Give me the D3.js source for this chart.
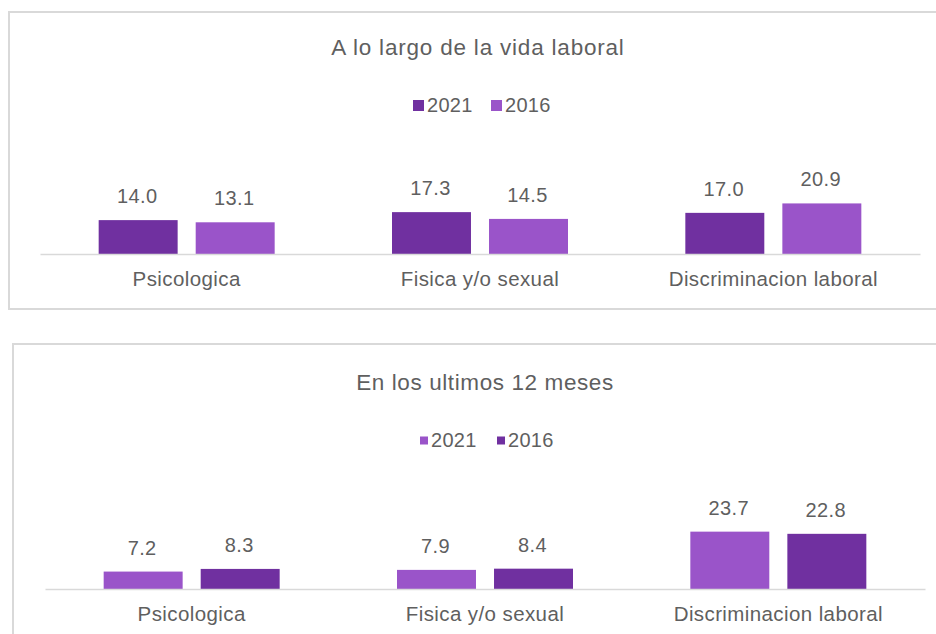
<!DOCTYPE html>
<html>
<head>
<meta charset="utf-8">
<script src="https://cdn.jsdelivr.net/npm/d3@7"></script>
<style>
  html, body { margin: 0; padding: 0; background: #fff; }
  svg { display: block; font-family: "Liberation Sans", Arial, sans-serif; }
</style>
</head>
<body>
<svg id="chart" width="936" height="634"></svg>
<script>
// ---- Data ----
const categories = ["Psicologica", "Fisica y/o sexual", "Discriminacion laboral"];

const topTitle = "A lo largo de la vida laboral";
const topSeriesNames = ["2021", "2016"];
const topValues2021 = [14.0, 17.3, 17.0];
const topValues2016 = [13.1, 14.5, 20.9];

const bottomTitle = "En los ultimos 12 meses";
const bottomSeriesNames = ["2021", "2016"];
const bottomValues2021 = [7.2, 7.9, 23.7];
const bottomValues2016 = [8.3, 8.4, 22.8];

const DARK = "#7030a0";
const LIGHT = "#9a54c9";
const TEXT = "#5f5f5f";

const svg = d3.select("#chart");

function drawPanel(cfg) {
  const g = svg.append("g");
  // panel border
  g.append("rect")
    .attr("x", cfg.box[0]).attr("y", cfg.box[1])
    .attr("width", cfg.box[2]).attr("height", cfg.box[3])
    .attr("fill", "#fff").attr("stroke", "#d9d9d9").attr("stroke-width", 2);

  // title
  g.append("text")
    .attr("x", cfg.titleX).attr("y", cfg.titleY)
    .attr("text-anchor", "middle")
    .attr("font-size", 22.5).attr("fill", TEXT)
    .attr("letter-spacing", cfg.titleLs)
    .text(cfg.title);

  // scales
  const x0 = d3.scaleBand().domain(categories)
    .range([cfg.left, cfg.right]).paddingInner(0.4).paddingOuter(0.2);
  const x1 = d3.scaleBand().domain(cfg.series)
    .range([0, x0.bandwidth()]).paddingInner(0.186).paddingOuter(0);
  const y = d3.scaleLinear().domain([0, 25]).range([cfg.base, cfg.base - 25 * 2.42]);

  const rows = categories.map((c, i) => ({
    cat: c,
    vals: cfg.series.map((s, j) => ({ s, v: cfg.values[j][i], color: cfg.colors[j] }))
  }));

  const grp = g.selectAll("g.cat").data(rows).join("g")
    .attr("transform", d => `translate(${x0(d.cat)},0)`);

  grp.selectAll("rect").data(d => d.vals).join("rect")
    .attr("x", d => x1(d.s))
    .attr("y", d => y(d.v))
    .attr("width", x1.bandwidth())
    .attr("height", d => y(0) - y(d.v))
    .attr("fill", d => d.color);

  grp.selectAll("text.val").data(d => d.vals).join("text")
    .attr("class", "val")
    .attr("x", d => x1(d.s) + x1.bandwidth() / 2 - 1)
    .attr("y", d => y(d.v) - 17)
    .attr("text-anchor", "middle")
    .attr("font-size", 20).attr("fill", TEXT)
    .attr("letter-spacing", 0.4)
    .text(d => d3.format(".1f")(d.v));

  // baseline axis
  const axis = d3.axisBottom(x0).tickSize(0).tickPadding(17);
  const ag = g.append("g").attr("transform", `translate(0,${cfg.base})`).call(axis);
  ag.select(".domain").attr("stroke", "#d9d9d9").attr("stroke-width", 1.5);
  ag.selectAll(".tick text")
    .attr("font-size", 20.5).attr("fill", TEXT)
    .attr("letter-spacing", 0.4)
    .attr("font-family", "'Liberation Sans', Arial, sans-serif");

  // legend
  const lg = g.append("g");
  cfg.series.forEach((s, j) => {
    lg.append("rect")
      .attr("x", cfg.legendX[j]).attr("y", cfg.legendY - cfg.sq + 1 - (11 - cfg.sq) / 2)
      .attr("width", cfg.sq).attr("height", cfg.sq)
      .attr("fill", cfg.colors[j]);
    lg.append("text")
      .attr("x", cfg.legendX[j] + cfg.sq + 3).attr("y", cfg.legendY + 2)
      .attr("font-size", 20).attr("fill", TEXT)
      .attr("letter-spacing", 0.3)
      .text(s);
  });
}

drawPanel({
  box: [9, 12, 940, 297],
  title: topTitle, titleX: 478, titleY: 55, titleLs: 0.8,
  left: 40, right: 920, base: 254,
  series: topSeriesNames,
  values: [topValues2021, topValues2016],
  colors: [DARK, LIGHT],
  legendX: [413, 491], legendY: 110, sq: 11
});

drawPanel({
  box: [13, 344, 940, 320],
  title: bottomTitle, titleX: 485, titleY: 390, titleLs: 0.6,
  left: 45, right: 925, base: 589,
  series: bottomSeriesNames,
  values: [bottomValues2021, bottomValues2016],
  colors: [LIGHT, DARK],
  legendX: [420, 497], legendY: 445, sq: 8
});
</script>
</body>
</html>
